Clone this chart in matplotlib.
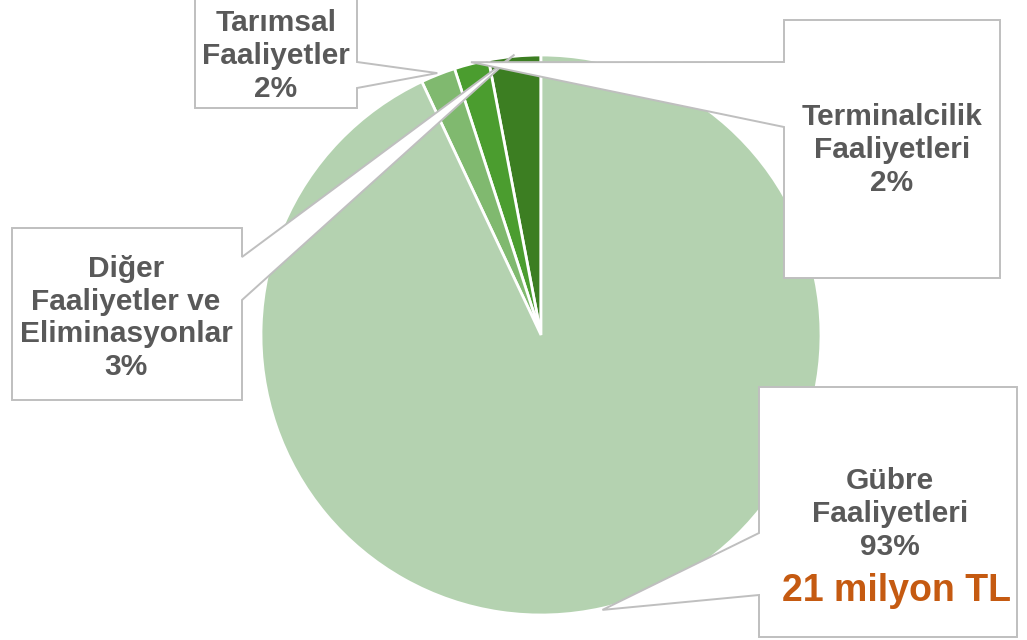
import matplotlib
matplotlib.use("Agg")
import matplotlib.pyplot as plt
from matplotlib.patches import Polygon
import numpy as np

# data, counter-clockwise from 12 o'clock
labels = ["Diğer\nFaaliyetler ve\nEliminasyonlar", "Terminalcilik\nFaaliyetleri",
          "Tarımsal\nFaaliyetler", "Gübre\nFaaliyetleri"]
shares = [3, 2, 2, 93]
colors = ["#3c7e22", "#4b9d2f", "#80b96f", "#b4d2b0"]
extra_note = "21 milyon TL"

W, H = 1027, 640
fig = plt.figure(figsize=(W / 100, H / 100), dpi=100)
ax = fig.add_axes([0, 0, 1, 1])

cx, cy, R = 541, H - 335, 280
wedges, _ = ax.pie(shares, colors=colors, startangle=90, counterclock=True,
                   center=(cx, cy), radius=R,
                   wedgeprops=dict(edgecolor="white", linewidth=2))
ax.set_xlim(0, W)
ax.set_ylim(0, H)
ax.set_aspect("auto")
ax.axis("off")

# callout boxes: (left, right, top, bottom) in pixels from top, and pointer gap on a side
boxes = [
    dict(box=(12, 242, 228, 400), side="right", gap=(257, 300), text=(126, 318)),
    dict(box=(784, 1000, 20, 278), side="left", gap=(62, 127), text=(892, 150)),
    dict(box=(195, 357, -2, 108), side="right", gap=(62, 88), text=(276, 56)),
    dict(box=(759, 1017, 387, 637), side="left", gap=(533, 595), text=(890, 514)),
]

grey = "#bfbfbf"
txt_col = "#595959"
for w, share, lab, b in zip(wedges, shares, labels, boxes):
    mid = np.deg2rad((w.theta1 + w.theta2) / 2)
    tip = (cx + R * 1.006 * np.cos(mid), cy + R * 1.006 * np.sin(mid))
    l, r, t, btm = b["box"]
    g1, g2 = b["gap"]
    yf = lambda v: H - v
    if b["side"] == "right":
        pts = [(l, yf(t)), (r, yf(t)), (r, yf(g1)), tip, (r, yf(g2)),
               (r, yf(btm)), (l, yf(btm))]
    else:
        pts = [(l, yf(t)), (r, yf(t)), (r, yf(btm)), (l, yf(btm)),
               (l, yf(g2)), tip, (l, yf(g1))]
    ax.add_patch(Polygon(pts, closed=True, facecolor="white", edgecolor=grey,
                         linewidth=1.4, zorder=5))
    ax.text(b["text"][0], H - b["text"][1], f"{lab}\n{share}%", ha="center",
            va="center", fontsize=21.5, fontweight="bold", color=txt_col,
            family="Liberation Sans", linespacing=1.22, zorder=6)

ax.text(896, H - 591, extra_note, ha="center", va="center", fontsize=27,
        fontweight="bold", color="#c55a11", family="Liberation Sans", zorder=6)

fig.savefig("out.png", dpi=100, facecolor="white")
